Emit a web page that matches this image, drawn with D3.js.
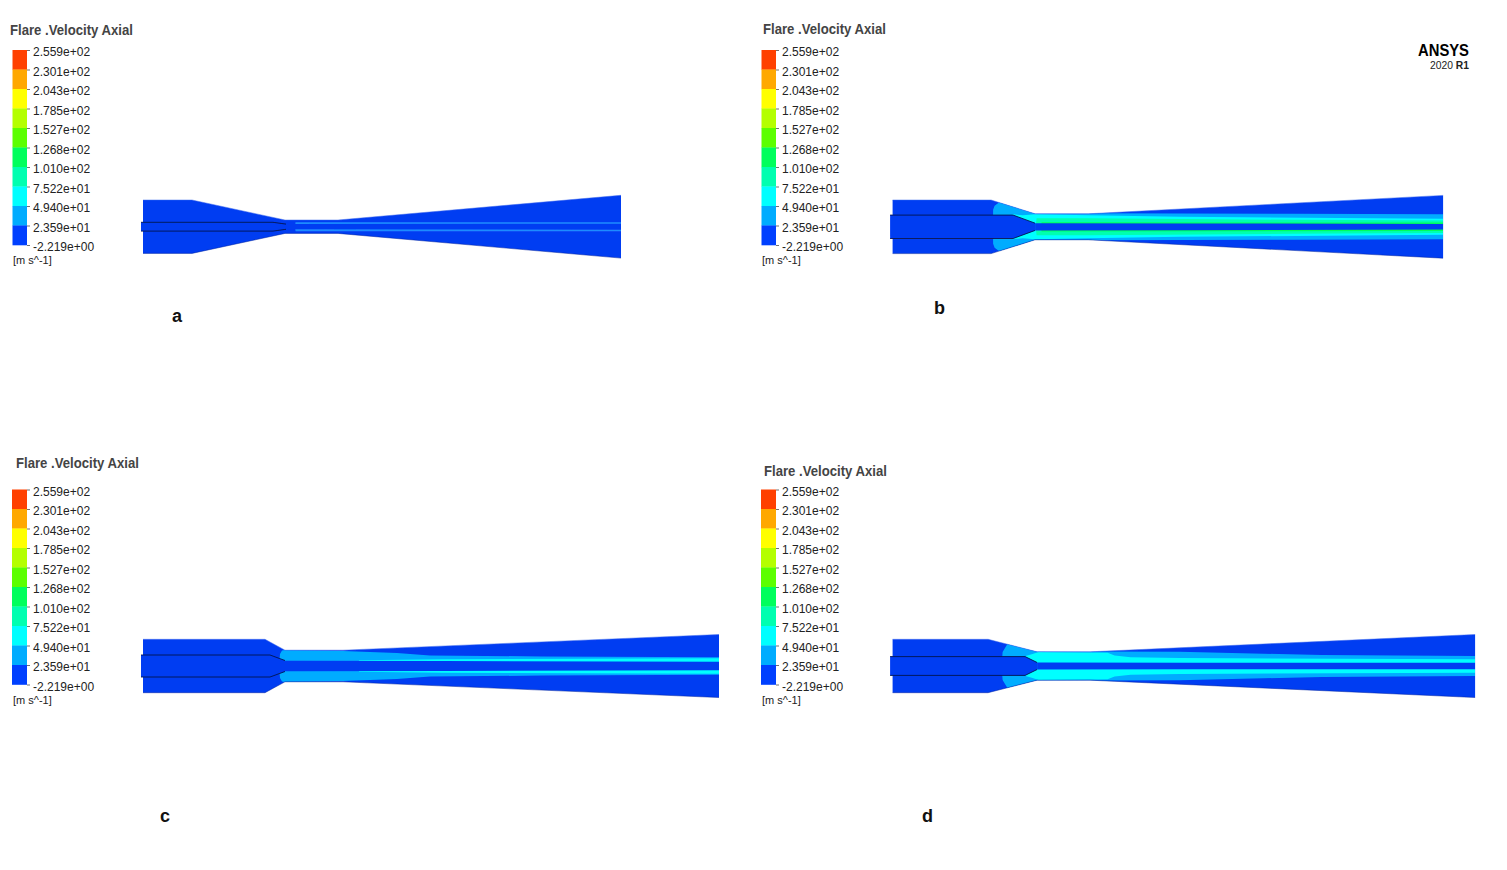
<!DOCTYPE html>
<html><head><meta charset="utf-8">
<script src="https://cdnjs.cloudflare.com/ajax/libs/d3/7.8.5/d3.min.js"></script>
<style>html,body{margin:0;background:#fff}svg{display:block}text{font-family:"Liberation Sans",Arial,sans-serif}</style>
</head><body><svg id="c" width="1507" height="870"></svg>
<script>
// Colour legend
const tickLabels = ["2.559e+02","2.301e+02","2.043e+02","1.785e+02","1.527e+02","1.268e+02","1.010e+02","7.522e+01","4.940e+01","2.359e+01","-2.219e+00"];
const levelColors = ["#ff4000","#ffa800","#ffff00","#b4ff00","#5cff00","#00ff5c","#00ffb0","#00ffff","#00acff","#0040ff"];
const FIELD="#033cf2", CY=levelColors[7], LB=levelColors[8], TEAL=levelColors[6], GREEN=levelColors[5];

// Geometry: [axial distance, radius] profiles
const wallA=[[0,26.7],[49,26.7],[142,6.7],[195,6.7],[478,31.4]];
const nozzleA=[[-2,4.4],[130,4.4],[143,2.6]];
const streakA=[[152,0],[152.5,4.5],[478,4.5]];
const coreA=[[143,2.6],[478,3]];

const wallB=[[0,26.8],[98.5,26.8],[142.5,13],[195.5,13],[550.5,31.4]];
const nozzleB=[[-2.5,11.7],[120.5,11.7],[142.5,3.6]];
const lightB=[[100.4,0],[100.5,17],[102,21],[106,24],[125,27],[142.5,13.5],[195.5,13.5],[400,13],[550.5,12.5]];
const cyanB=[[118,0],[120,12.5],[130,11.5],[142.5,12.5],[195.5,11.5],[287,10],[550.5,8]];
const tealB=[[143,0],[144,8.5],[195.5,8.5],[400,7],[550.5,6.3]];
const greenB=[[148,0],[149,4.6],[400,4.4],[550.5,4.2]];
const coreB=[[142.5,3.6],[300,3.4],[550.5,2.8]];

const wallC=[[0,26.7],[122,26.7],[142,15.8],[200,15.8],[576,31.5]];
const nozzleC=[[-2,11],[127,11],[142,5.5]];
const lightC=[[136,0],[137,12],[139,15.5],[142,16],[200,15],[254,13],[287,10.5],[400,9.6],[576,8.8]];
const cyanC=[[215,0],[216,5.8],[300,6.8],[576,7.7]];
const coreC=[[142,5.2],[300,5],[576,4.3]];

const wallD=[[0,26.7],[95.5,26.7],[144.5,14.2],[197.5,14.2],[582.5,31.5]];
const nozzleD=[[-2.5,9.4],[132.5,9.4],[144.5,3.5]];
const lightD=[[109,0],[110,14],[113,19],[118,27],[144.5,15],[197.5,14.5],[287,14.3],[430,11],[582.5,10]];
const cyanD=[[132,0],[133,10],[140,12],[146,14],[215,13.2],[222,10.5],[238,8.8],[287,8],[582.5,6.7]];
const coreD=[[144.5,3.5],[300,3.3],[582.5,3.3]];

const streakColor="#1a8cff";
const panels=[
 {id:"a",x0:143,cy:226.7,wall:wallA,nozzle:nozzleA,layers:[[streakA,streakColor],[coreA,FIELD]],bar:[12.5,50],bw:14.5,title:"Flare .Velocity Axial",tx:10,ty:35,lx:172,ly:322,ux:13},
 {id:"b",x0:892.6,cy:226.8,wall:wallB,nozzle:nozzleB,layers:[[lightB,LB],[cyanB,CY],[tealB,TEAL],[greenB,GREEN],[coreB,FIELD]],bar:[761.5,50],bw:14.5,title:"Flare .Velocity Axial",tx:763,ty:34,lx:934,ly:314,ux:762},
 {id:"c",x0:143,cy:666,wall:wallC,nozzle:nozzleC,layers:[[lightC,LB],[cyanC,CY],[coreC,FIELD]],bar:[12,489.5],bw:15,title:"Flare .Velocity Axial",tx:16,ty:468,lx:160,ly:822,ux:13},
 {id:"d",x0:892.6,cy:666,wall:wallD,nozzle:nozzleD,layers:[[lightD,LB],[cyanD,CY],[coreD,FIELD]],bar:[761,489.5],bw:15,title:"Flare .Velocity Axial",tx:764,ty:476,lx:922,ly:822,ux:762}
];

const svg=d3.select("#c");
const defs=svg.append("defs");
defs.append("filter").attr("id","soft").attr("x","-2%").attr("y","-10%").attr("width","104%").attr("height","120%")
  .append("feGaussianBlur").attr("stdDeviation",0.45);

panels.forEach(p=>{
  const L=d3.max(p.wall,d=>d[0]);
  const x=d3.scaleLinear().domain([0,L]).range([p.x0,p.x0+L]);
  const r=d3.scaleLinear().domain([-40,40]).range([p.cy+40,p.cy-40]);
  const area=d3.area().x(d=>x(d[0])).y0(d=>r(-d[1])).y1(d=>r(d[1]));
  const g=svg.append("g");

  defs.append("clipPath").attr("id","wall-"+p.id).append("path").attr("d",area(p.wall));
  const f=g.append("g").attr("filter","url(#soft)");
  f.append("path").attr("d",area(p.wall)).attr("fill",FIELD);
  const cg=f.append("g").attr("clip-path",`url(#wall-${p.id})`);
  p.layers.forEach(([prof,col])=>cg.append("path").attr("d",area(prof)).attr("fill",col));
  // wall edge
  const top=d3.line().x(d=>x(d[0])).y(d=>r(d[1]));
  const bot=d3.line().x(d=>x(d[0])).y(d=>r(-d[1]));
  f.append("path").attr("d",top(p.wall)).attr("fill","none").attr("stroke","#3f6cec").attr("stroke-width",.5);
  f.append("path").attr("d",bot(p.wall)).attr("fill","none").attr("stroke","#06259c").attr("stroke-width",.5);
  // inner nozzle
  f.append("path").attr("d",area(p.nozzle)).attr("fill",FIELD);
  const upper=p.nozzle.slice().reverse().map(d=>[x(d[0]),r(d[1])]);
  const lower=p.nozzle.map(d=>[x(d[0]),r(-d[1])]);
  f.append("path").attr("d",d3.line()(upper)).attr("fill","none").attr("stroke","#08164f").attr("stroke-width",.9);
  f.append("path").attr("d",d3.line()(lower)).attr("fill","none").attr("stroke","#08164f").attr("stroke-width",.9);

  // legend
  const [bx,by]=p.bar;
  const band=d3.scaleBand().domain(levelColors).range([by,by+195]);
  const lg=svg.append("g");
  lg.selectAll("rect").data(levelColors).join("rect")
    .attr("x",bx).attr("y",d=>band(d)).attr("width",p.bw).attr("height",band.bandwidth()+.3).attr("fill",d=>d);
  const pts=d3.scalePoint().domain(tickLabels).range([by,by+195]);
  const ax=lg.append("g").attr("transform",`translate(${bx+p.bw},0)`)
    .call(d3.axisRight(pts).tickSize(3).tickPadding(3));
  ax.select(".domain").remove();
  ax.selectAll("line").attr("stroke","#333").attr("stroke-width",.7);
  ax.selectAll("text").attr("font-size",12).attr("fill","#222").attr("dy","0.47em")
    .style("font-family",'"Liberation Sans",Arial,sans-serif');
  lg.append("text").attr("x",p.ux).attr("y",by+214).attr("font-size",11).attr("fill","#222").text("[m s^-1]");
  svg.append("text").attr("x",p.tx).attr("y",p.ty).attr("font-size",15).attr("font-weight",700).attr("fill","#444")
    .attr("textLength",123).attr("lengthAdjust","spacingAndGlyphs").text(p.title);
  svg.append("text").attr("x",p.lx).attr("y",p.ly).attr("font-size",18).attr("font-weight",700).attr("fill","#111").text(p.id);
});

svg.append("text").attr("x",1418).attr("y",56).attr("font-size",17).attr("font-weight",700).attr("fill","#000")
  .attr("textLength",51).attr("lengthAdjust","spacingAndGlyphs").text("ANSYS");
const ver=svg.append("text").attr("x",1469).attr("y",69).attr("text-anchor","end").attr("font-size",10.3).attr("fill","#222");
ver.append("tspan").text("2020 ");
ver.append("tspan").attr("font-weight",700).text("R1");
</script></body></html>
